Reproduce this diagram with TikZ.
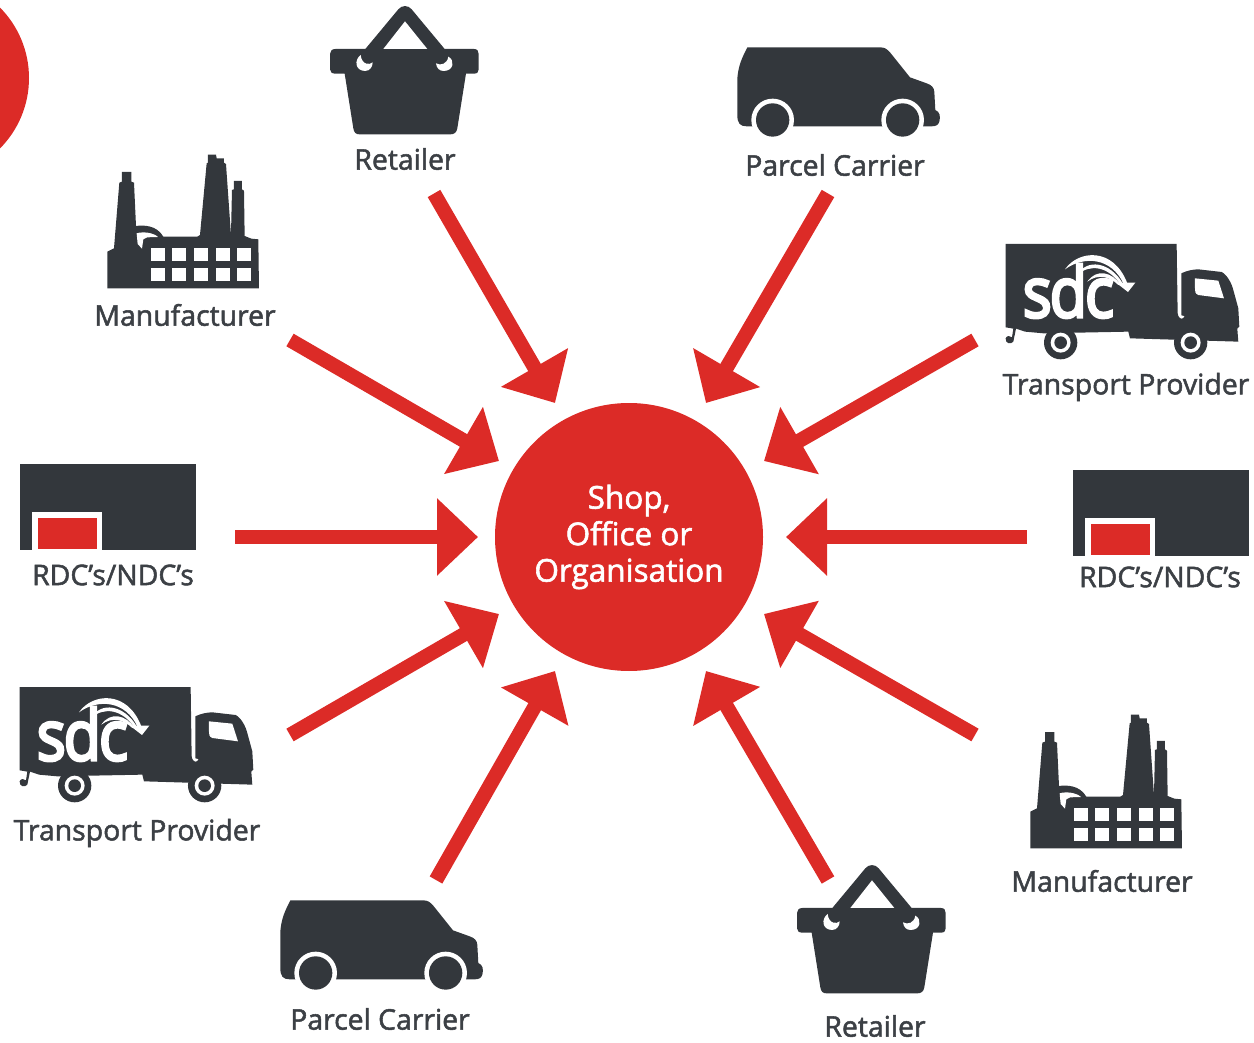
\documentclass[tikz,border=0pt]{standalone}
\usepackage{fontspec}
\setmainfont{Open Sans}
\newfontfamily\labfont[FakeBold=1.8]{Open Sans}
\newfontfamily\logofont[FakeBold=4]{Open Sans}
\usetikzlibrary{arrows.meta}
\definecolor{icon}{HTML}{33373C}
\definecolor{txt}{HTML}{3C4045}
\definecolor{brand}{HTML}{DC2B27}
\tikzset{
  zoomed/.style={x=0.3333pt,y=-0.3333pt},
  flow/.style={draw=brand,line width=14.5pt,-{Triangle[length=41pt,width=75pt]}},
  lab/.style={text=txt,font=\labfont\fontsize{28.4}{32}\selectfont,inner sep=0pt,anchor=center},
  wheel/.pic={
    \fill[icon] (0,0) circle (50);
    \fill[white] (0,0) circle (30);
    \fill[icon] (0,0) circle (19);
  },
  truckicon/.pic={
    \begin{scope}[zoomed]
      \fill[icon] (47,42) -- (560,42) -- (563,250) .. controls (566,270) and (580,270) .. (584,258) -- (574,256) -- (574,130)
        .. controls (590,122) and (610,118) .. (625,118) -- (695,126) .. controls (712,135) and (725,160) .. (730,180)
        -- (745,235) -- (748,290) -- (742,296) -- (745,335) -- (420,325) -- (415,305) -- (160,310) -- (105,305) -- (78,296) -- (70,335) .. controls (62,345) and (45,340) .. (47,325) .. controls (50,315) and (62,318) .. (66,322) -- (70,296) -- (47,292) -- cycle;
      \fill[white] (615,145) -- (685,152) -- (702,205) -- (625,195) .. controls (615,190) and (615,185) .. (615,175) -- cycle;
      \draw[white,line width=1.3pt] (148,340) arc[start angle=180,end angle=130,radius=64];
      \path (212,338) pic {wheel};
      \path (602,338) pic {wheel};
      \node[text=white,font=\logofont\fontsize{70}{70}\selectfont,inner sep=0pt,xscale=0.88,anchor=base] (#1) at (235,262) {s\kern-0.04em d\kern-0.04em c};
      \fill[white] (225,118) .. controls (265,60) and (370,50) .. (412,160) -- (400,160) .. controls (365,85) and (285,75) .. (225,118) -- cycle;
      \fill[white] (262,135) .. controls (290,85) and (360,95) .. (398,160) -- (390,162) .. controls (355,110) and (300,100) .. (262,135) -- cycle;
      \fill[white] (292,155) .. controls (320,115) and (365,125) .. (392,165) -- (385,165) .. controls (360,140) and (325,130) .. (292,155) -- cycle;
      \fill[white] (378,158) -- (436,158) -- (414,186) -- cycle;
    \end{scope}
  },
  factoryicon/.pic={
    \begin{scope}[zoomed]
      \fill[icon] (52,445) -- (52,335) -- (72,325) -- (88,128) -- (96,125) -- (96,96) -- (124,96) -- (124,125) -- (132,128) -- (138,258)
        .. controls (160,255) and (200,255) .. (220,290) -- (322,290) -- (330,285) -- (350,70) -- (354,68) -- (354,44) -- (378,44) -- (380,55) -- (402,55) -- (402,68) -- (408,72) -- (423,285) -- (426,150) -- (432,148) -- (432,123) -- (456,123) -- (456,148) -- (462,152) -- (464,288) -- (484,296) -- (505,298) -- (507,445) -- cycle;
      \fill[white] (140,280) .. controls (160,274) and (190,278) .. (204,291) -- (172,292) -- (160,298) -- (156,326) -- (143,312) -- cycle;
      \foreach \xx in {183,247,312,377,441} \foreach \yy in {323,383} {
        \fill[white] (\xx,\yy) rectangle ++(42,41);
      }
    \end{scope}
  },
  basketicon/.pic={
    \begin{scope}[zoomed]
      \fill[icon] (46,147) -- (136,147) -- (235,28) .. controls (245,15) and (265,15) .. (275,28) -- (374,147) -- (462,147) .. controls (472,147) and (476,153) .. (476,162) -- (476,208) .. controls (476,216) and (472,221) .. (462,221) -- (438,221) -- (412,385) .. controls (410,398) and (402,403) .. (392,403) -- (118,403) .. controls (108,403) and (102,398) .. (100,385) -- (74,221) -- (46,221) .. controls (36,221) and (30,216) .. (30,208) -- (30,162) .. controls (30,153) and (36,147) .. (46,147) -- cycle;
      \fill[white] (255,64) -- (322,147) -- (190,147) -- cycle;
      \fill[white] (122,165) .. controls (102,180) and (105,212) .. (135,213) .. controls (150,213) and (158,200) .. (158,187) .. controls (150,196) and (125,195) .. (122,165) -- cycle;
      \fill[white] (385,170) .. controls (405,180) and (402,212) .. (372,213) .. controls (358,213) and (350,205) .. (348,190) .. controls (362,198) and (382,192) .. (385,170) -- cycle;
    \end{scope}
  },
  vanicon/.pic={
    \begin{scope}[zoomed]
      \fill[icon] (52,37) -- (450,37) .. controls (465,37) and (470,42) .. (480,52) -- (540,127) -- (590,145) .. controls (605,150) and (612,158) .. (613,170) -- (616,225) .. controls (630,230) and (632,245) .. (628,260) .. controls (625,270) and (618,274) .. (605,274) -- (50,274) .. controls (30,274) and (22,265) .. (22,240) -- (22,130) .. controls (25,90) and (38,65) .. (52,37) -- cycle;
      \foreach \cx in {128,518} {
        \fill[white] (\cx,255) circle (64);
        \fill[icon] (\cx,255) circle (50);
      }
    \end{scope}
  },
  shedicon/.pic={
    \fill[icon] (0,0) rectangle (176,85.5);
    \fill[white] (12,48) rectangle (82,85.5);
    \fill[brand] (18,54) rectangle (77,85);
  }
}
\begin{document}
\begin{tikzpicture}[x=1pt,y=-1pt]
\useasboundingbox (0,0) rectangle (1254,1043);
\begin{scope}
  \clip (0,0) rectangle (1254,1043);
  \fill[brand] (-71,78) circle (100);
\end{scope}

\node[circle,fill=brand,minimum size=268pt,inner sep=0pt,text=white,align=center,
  font=\labfont\fontsize{31.5}{36.5}\selectfont] (hub) at (629,537) {\raisebox{1pt}{Shop,}\\\raisebox{1pt}{Office or}\\\raisebox{1pt}{Organisation}};

\pic at (320,0) {basketicon};
\pic at (787,859) {basketicon};
\pic at (730,35) {vanicon};
\pic at (273,888) {vanicon};
\pic at (90,140) {factoryicon};
\pic at (1013,700) {factoryicon};
\pic at (990,230) {truckicon=sdcA};
\pic at (4,673) {truckicon=sdcB};
\pic at (20,464) {shedicon};
\pic at (1073,470) {shedicon};

\node[lab] (l1) at (405,159) {Retailer};
\node[lab] (l2) at (835,165) {Parcel Carrier};
\node[lab] (l3) at (185,315) {Manufacturer};
\node[lab] (l4) at (1126,387) {Transport Provider};
\node[lab] (l5) at (113,575) {RDC’s/NDC’s};
\node[lab] (l6) at (1160,577) {RDC’s/NDC’s};
\node[lab] (l7) at (137,833) {Transport Provider};
\node[lab] (l8) at (1102,881) {Manufacturer};
\node[lab] (l9) at (380,1019) {Parcel Carrier};
\node[lab] (l10) at (875,1026) {Retailer};

\foreach \n/\sx/\sy/\tx/\ty in {
  a/434/193.5/555/403, b/828/193.5/706/403, c/975/340/764/461, d/1027/537/786/537, e/975/735/764/614,
  f/828/880/706/671, g/436/880/555/671, h/290/735/499/614, i/235/537/478/537, j/290/340/499/461} {
  \coordinate (s\n) at (\sx,\sy);
  \coordinate (t\n) at (\tx,\ty);
  \draw[flow] (s\n) -- (t\n);
}
\end{tikzpicture}
\end{document}
